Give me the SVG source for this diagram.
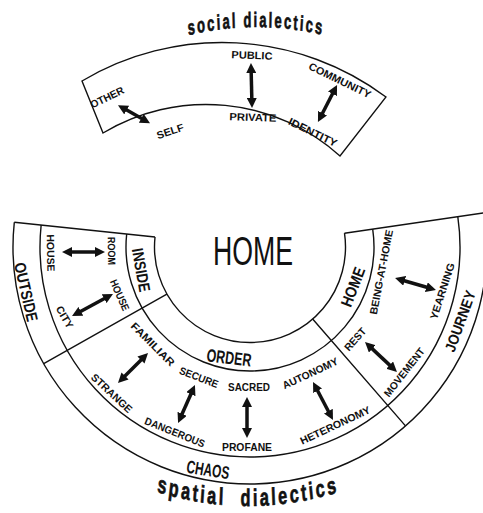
<svg xmlns="http://www.w3.org/2000/svg" width="483" height="513" viewBox="0 0 483 513">
<style>
.ln{fill:none;stroke:#111;stroke-width:1.4}
.ar{fill:none;stroke:#111;stroke-width:3.5;marker-start:url(#ah);marker-end:url(#ah)}
text{font-family:"Liberation Sans",Arial,sans-serif;font-weight:bold;fill:#111}
.s{font-size:10.5px}
.m{font-size:16px}
.c{text-anchor:middle;dominant-baseline:central}
.ttl{stroke:#111;stroke-width:0.7}
</style>
<defs>
<marker id="ah" viewBox="0 0 10 10" refX="4" refY="5" markerWidth="10" markerHeight="10" markerUnits="userSpaceOnUse" orient="auto-start-reverse"><path d="M0,0 L10,5 L0,10 Z" fill="#111"/></marker>
<path id="topArc" d="M62.5,54 A451.6,280 0 0 1 449.5,54"/>
<path id="botArc" d="M-46,429.6 A441,300 0 0 0 542,429.6"/>
</defs>

<g id="social">
<path class="ln" d="M82,81 A274,274 0 0 1 386,97 L340,156 A200,200 0 0 0 103,133 Z"/>
<g transform="matrix(0.62,0,0,1,97.3,0)">
<text class="ttl" style="font-size:21px;letter-spacing:3.4px"><textPath href="#topArc" startOffset="50%" text-anchor="middle">social dialectics</textPath></text>
</g>
<g id="other-self">
<text class="s c" transform="translate(107,97) rotate(-26)" textLength="36" lengthAdjust="spacingAndGlyphs">OTHER</text>
<text class="s c" transform="translate(170,131) rotate(-18)" textLength="28" lengthAdjust="spacingAndGlyphs">SELF</text>
</g>
<g id="public-private">
<text class="s c" transform="translate(252,55) rotate(2)" textLength="41" lengthAdjust="spacingAndGlyphs">PUBLIC</text>
<text class="s c" transform="translate(253,117) rotate(2)" textLength="47" lengthAdjust="spacingAndGlyphs">PRIVATE</text>
</g>
<g id="community-identity">
<text class="s c" transform="translate(340,80) rotate(26)" textLength="68" lengthAdjust="spacingAndGlyphs">COMMUNITY</text>
<text class="s c" transform="translate(313,132) rotate(26)" textLength="53" lengthAdjust="spacingAndGlyphs">IDENTITY</text>
</g>
</g>

<g id="spatial">
<path class="ln" d="M344.5,233.21 A95.5,95.5 0 1 1 155.02,237.02"/>
<path class="ln" d="M372.7,229.1 A124,124 0 1 1 126.68,234.04"/>
<path class="ln" d="M457.8,216.68 A210,210 0 1 1 41.15,225.05"/>
<path class="ln" d="M484.52,212.79 A237,237 0 1 1 14.3,222.23"/>
<path class="ln" d="M155.02,237.02 L14.3,222.23 M344.5,233.21 L484.52,212.79 M166.88,294.03 L43.72,363.7 M312.65,319.07 L405.49,425.87"/>
<text x="253" y="251" class="c" style="font-size:40px;font-weight:normal" textLength="80" lengthAdjust="spacingAndGlyphs">HOME</text>
<g transform="matrix(0.68,0,0,1,79.4,0)">
<text class="ttl" style="font-size:24px;letter-spacing:3.7px"><textPath href="#botArc" startOffset="50%" text-anchor="middle">spatial<tspan dx="22">dialectics</tspan></textPath></text>
</g>
</g>

<g id="inside-outside">
<text class="m c" transform="translate(141,270) rotate(80)" textLength="44" lengthAdjust="spacingAndGlyphs">INSIDE</text>
<text class="m c" transform="translate(26,292) rotate(77)" textLength="60" lengthAdjust="spacingAndGlyphs">OUTSIDE</text>
<text class="s c" transform="translate(51,253) rotate(89)" textLength="37" lengthAdjust="spacingAndGlyphs">HOUSE</text>
<text class="s c" transform="translate(112,251) rotate(89)" textLength="28" lengthAdjust="spacingAndGlyphs">ROOM</text>
<text class="s c" transform="translate(120,295) rotate(66)" textLength="33" lengthAdjust="spacingAndGlyphs">HOUSE</text>
<text class="s c" transform="translate(65,317) rotate(60)" textLength="24" lengthAdjust="spacingAndGlyphs">CITY</text>
</g>

<g id="order-chaos">
<text class="m c" transform="translate(229,358) rotate(7)" style="font-size:18px" textLength="45" lengthAdjust="spacingAndGlyphs">ORDER</text>
<text class="m c" transform="translate(208,470) rotate(9)" style="font-size:18px" textLength="43" lengthAdjust="spacingAndGlyphs">CHAOS</text>
<text class="s c" transform="translate(153,344) rotate(45)" textLength="57" lengthAdjust="spacingAndGlyphs">FAMILIAR</text>
<text class="s c" transform="translate(112,393) rotate(43)" textLength="52" lengthAdjust="spacingAndGlyphs">STRANGE</text>
<text class="s c" transform="translate(199,377) rotate(21)" textLength="41" lengthAdjust="spacingAndGlyphs">SECURE</text>
<text class="s c" transform="translate(175,432) rotate(22)" textLength="64" lengthAdjust="spacingAndGlyphs">DANGEROUS</text>
<text class="s c" transform="translate(249,387)" textLength="42" lengthAdjust="spacingAndGlyphs">SACRED</text>
<text class="s c" transform="translate(247,447)" textLength="50" lengthAdjust="spacingAndGlyphs">PROFANE</text>
<text class="s c" transform="translate(310,373) rotate(-25)" textLength="60" lengthAdjust="spacingAndGlyphs">AUTONOMY</text>
<text class="s c" transform="translate(335,425) rotate(-25)" textLength="76" lengthAdjust="spacingAndGlyphs">HETERONOMY</text>
</g>

<g id="home-journey">
<text class="m c" transform="translate(353,287) rotate(-69)" textLength="41" lengthAdjust="spacingAndGlyphs">HOME</text>
<text class="m c" transform="translate(460,321) rotate(-70)" style="font-size:15px" textLength="64" lengthAdjust="spacingAndGlyphs">JOURNEY</text>
<text class="s c" transform="translate(381,272) rotate(-79)" textLength="86" lengthAdjust="spacingAndGlyphs">BEING-AT-HOME</text>
<text class="s c" transform="translate(442,291) rotate(-72)" textLength="59" lengthAdjust="spacingAndGlyphs">YEARNING</text>
<text class="s c" transform="translate(355,339) rotate(-48)" textLength="27" lengthAdjust="spacingAndGlyphs">REST</text>
<text class="s c" transform="translate(404,372) rotate(-52)" textLength="59" lengthAdjust="spacingAndGlyphs">MOVEMENT</text>
</g>

<g id="connectors">
<path class="ar" d="M123.2,108.1 L144.8,120.3"/>
<path class="ar" d="M251.1,69 L251.9,102"/>
<path class="ar" d="M334.3,90.3 L320.7,116.7"/>
<path class="ar" d="M68,252 L99,252"/>
<path class="ar" d="M77.3,313.2 L107.7,296.8"/>
<path class="ar" d="M143.8,357.2 L122.2,378.8"/>
<path class="ar" d="M192.5,390.5 L180.5,417.5"/>
<path class="ar" d="M247,403 L247,432"/>
<path class="ar" d="M315.8,387.3 L330.2,414.7"/>
<path class="ar" d="M369.4,346.1 L392.6,367.9"/>
<path class="ar" d="M400.8,279.7 L430.2,288.3"/>
</g>
</svg>
